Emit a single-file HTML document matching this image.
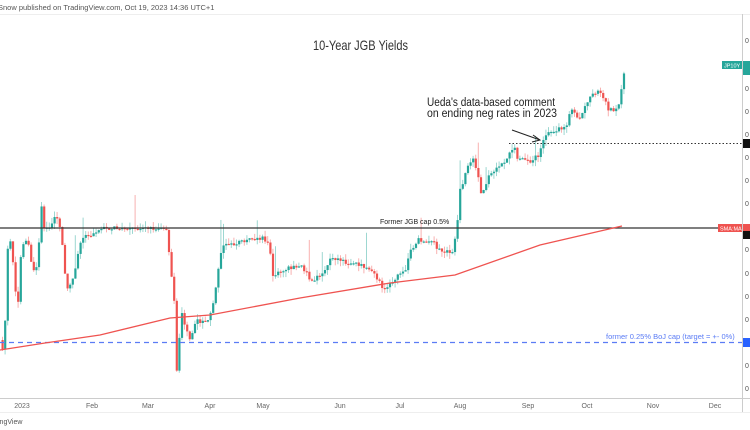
<!DOCTYPE html>
<html><head><meta charset="utf-8">
<style>
html,body{margin:0;padding:0;background:#fff;}
body{width:750px;height:430px;overflow:hidden;position:relative;font-family:"Liberation Sans",sans-serif;}
svg{position:absolute;left:0;top:0;}
</style></head>
<body>
<svg id="s" width="750" height="430" xmlns="http://www.w3.org/2000/svg" font-family="Liberation Sans, sans-serif">
<text x="-2" y="10" font-size="7.5" fill="#555">Snow published on TradingView.com, Oct 19, 2023 14:36 UTC+1</text>
<line x1="0" y1="14.5" x2="750" y2="14.5" stroke="#eee"/>
<line x1="0" y1="398.5" x2="750" y2="398.5" stroke="#ccc"/>
<line x1="0" y1="412.5" x2="750" y2="412.5" stroke="#eee"/>
<line x1="742.5" y1="14" x2="742.5" y2="412" stroke="#ccc"/>
<g font-size="7" fill="#666" text-anchor="middle">
<text x="22" y="408">2023</text><text x="92" y="408">Feb</text><text x="148" y="408">Mar</text><text x="210" y="408">Apr</text><text x="263" y="408">May</text><text x="340" y="408">Jun</text><text x="400" y="408">Jul</text><text x="460" y="408">Aug</text><text x="528" y="408">Sep</text><text x="587" y="408">Oct</text><text x="653" y="408">Nov</text><text x="715" y="408">Dec</text>
</g>
<text x="-2" y="424" font-size="7" fill="#555">ingView</text>
<g font-size="7" fill="#555">
<text x="745" y="43">0</text><text x="745" y="91">0</text><text x="745" y="114">0</text><text x="745" y="137">0</text><text x="745" y="160">0</text><text x="745" y="183">0</text><text x="745" y="206">0</text><text x="745" y="252">0</text><text x="745" y="276">0</text><text x="745" y="299">0</text><text x="745" y="322">0</text><text x="745" y="368">0</text><text x="745" y="391">0</text>
</g>
<g id="c"></g>
<line x1="0" y1="228" x2="742" y2="228" stroke="#333" stroke-width="1.3"/>
<line x1="509" y1="143.5" x2="742" y2="143.5" stroke="#333" stroke-dasharray="1.5,2"/>
<line x1="0" y1="342.5" x2="742" y2="342.5" stroke="#5b7cf5" stroke-width="1.3" stroke-dasharray="5,4"/>
<polyline fill="none" stroke="#ef5350" stroke-width="1.3" points="0,350 45,343 100,335 170,318 210,315 300,298 390,283 455,275 540,245 622,226"/>
<text x="313" y="50" font-size="14" fill="#333" textLength="95" lengthAdjust="spacingAndGlyphs">10-Year JGB Yields</text>
<text x="380" y="224" font-size="7" fill="#222">Former JGB cap 0.5%</text>
<text x="427" y="106" font-size="11.5" fill="#222" textLength="128" lengthAdjust="spacingAndGlyphs">Ueda's data-based comment</text>
<text x="427" y="117" font-size="11.5" fill="#222" textLength="130" lengthAdjust="spacingAndGlyphs">on ending neg rates in 2023</text>
<line x1="512" y1="130" x2="540" y2="140" stroke="#222" stroke-width="1"/>
<polyline points="533,135 540,140 532,142" fill="none" stroke="#222"/>
<text x="606" y="339" font-size="7.5" fill="#5b7cf5">former 0.25% BoJ cap (target = +- 0%)</text>
<rect x="722" y="61" width="20" height="8" fill="#26a69a"/><text x="724" y="67.5" font-size="5.5" fill="#fff">JP10Y</text>
<rect x="743" y="61" width="7" height="14" fill="#26a69a"/>
<rect x="743" y="139" width="7" height="9" fill="#111"/>
<rect x="718" y="224" width="24" height="8" fill="#ef5350"/><text x="720" y="230.5" font-size="5.5" fill="#fff">SMA:MA</text>
<rect x="743" y="224" width="7" height="7" fill="#ef5350"/>
<rect x="743" y="231" width="7" height="8" fill="#111"/>
<rect x="743" y="338" width="7" height="9" fill="#2962ff"/>
</svg>
<script>
var k=[[0,340],[3,360],[6,250],[9,240],[12,265],[14,290],[17,305],[20,252],[23,240],[27,240],[31,270],[35,270],[38,240],[40,200],[42,228],[50,226],[55,215],[60,230],[63,268],[66,290],[70,285],[75,265],[80,240],[85,236],[95,233],[100,228],[165,228],[170,270],[173,300],[176,378],[180,310],[185,330],[190,340],[195,318],[200,322],[207,320],[212,305],[215,285],[218,265],[221,245],[230,245],[245,240],[262,238],[268,245],[272,275],[280,270],[300,265],[310,280],[320,276],[330,258],[345,262],[360,265],[370,270],[380,285],[385,290],[392,280],[405,268],[410,250],[416,240],[430,240],[440,252],[452,252],[456,228],[458,193],[462,182],[466,165],[472,160],[476,170],[480,195],[484,185],[490,172],[500,165],[508,155],[513,147],[516,157],[525,160],[530,165],[534,155],[538,158],[541,140],[550,131],[560,128],[566,124],[570,110],[576,116],[580,117],[585,105],[590,95],[598,90],[603,100],[608,110],[614,110],[618,105],[621,85],[624,65]];
function at(x){for(var i=1;i<k.length;i++){if(x<=k[i][0]){var a=k[i-1],b=k[i];return a[1]+(b[1]-a[1])*(x-a[0])/(b[0]-a[0]);}}return k[k.length-1][1];}
var s=1;function r(){s=(s*9301+49297)%233280;return s/233280;}
var g=document.getElementById('c'),h='',prev=at(0);
for(var x=1.5;x<=624;x+=2.6){
 var c=at(x)+(r()-0.5)*4,o=prev,up=c<o,col=up?'#26a69a':'#ef5350';
 var hi=Math.min(o,c)-r()*6,lo=Math.max(o,c)+r()*6;
 if(r()<0.08)hi-=15+r()*15;
 h+='<line x1="'+(x+1)+'" y1="'+hi+'" x2="'+(x+1)+'" y2="'+lo+'" stroke="'+col+'" stroke-opacity="0.45" stroke-width="1"/>';
 h+='<rect x="'+x+'" y="'+Math.min(o,c)+'" width="2.2" height="'+Math.max(1.2,Math.abs(c-o))+'" fill="'+col+'"/>';
 prev=c;
}
g.innerHTML=h;
</script>
</body></html>
